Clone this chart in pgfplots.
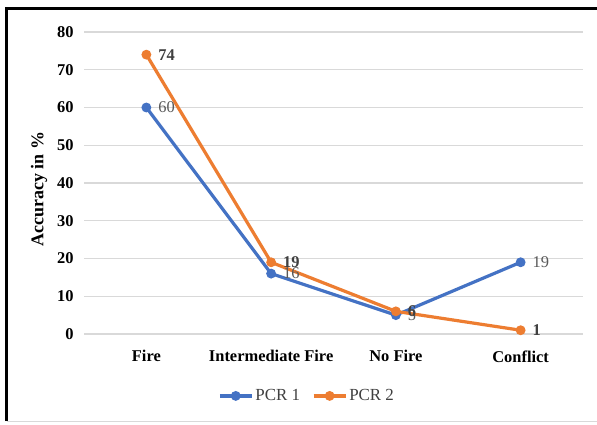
\documentclass[border=0pt]{standalone}
\usepackage{pgfplots}
\pgfplotsset{compat=1.18}
\usepackage{fontspec}
\setmainfont{Liberation Serif}
\definecolor{pblue}{HTML}{4472C4}
\definecolor{porange}{HTML}{ED7D31}
\definecolor{gridc}{HTML}{D9D9D9}
\definecolor{txtgray}{HTML}{595959}
\definecolor{txtdark}{HTML}{404040}
\begin{document}
\begin{tikzpicture}[x=1bp,y=1bp]
\useasboundingbox (0,0) rectangle (597,424);
\fill[white] (0,0) rectangle (597,424);
\draw[gridc, line width=1.5bp] (6.5,2.5) -- (597,2.5);
\draw[black, line width=3bp] (6.5,3) -- (6.5,415.5) -- (597,415.5);
\begin{axis}[
  at={(84bp,90bp)}, anchor=south west,
  width=499bp, height=302bp, scale only axis,
  xmin=-0.5, xmax=3.5, ymin=0, ymax=80,
  xtick={0,1,2,3},
  xticklabels={Fire, Intermediate Fire, No Fire, Conflict},
  ytick={0,10,...,80},
  ymajorgrids, grid style={gridc, line width=1.3bp},
  axis line style={draw=none},
  major tick length=0,
  clip=false,
  tick label style={font=\fontsize{16.5}{19}\selectfont\bfseries, text=black},
  /pgf/number format/assume math mode=true,
  yticklabel style={xshift=-7bp},
  xticklabel style={yshift=-13bp},
  ylabel={Accuracy in \%},
  every axis y label/.style={at={(axis description cs:-0.09,0.48)}, rotate=90, anchor=center,
    font=\fontsize{18}{21}\selectfont\bfseries},
  legend style={at={(axis description cs:0.447,-0.205)}, anchor=center, draw=none,
    font=\fontsize{17}{20}\selectfont, text=txtdark, legend columns=2,
    /tikz/every even column/.append style={column sep=10bp}},
  legend image code/.code={\draw[mark repeat=2,mark phase=2,#1] plot coordinates {(0bp,0bp) (16bp,0bp) (32bp,0bp)};},
  nodes near coords,
]
\addplot[pblue, line width=3.2bp, mark=*, mark size=4.3bp, mark options={solid, line width=1.2bp},
  every node near coord/.append style={anchor=west, xshift=8bp, font=\fontsize{16.5}{19}\selectfont, text=txtgray}]
  coordinates {(0,60) (1,16) (2,5) (3,19)};
\addlegendentry{PCR 1}
\addplot[porange, line width=3.2bp, mark=*, mark size=4.3bp, mark options={solid, line width=1.2bp},
  every node near coord/.append style={anchor=west, xshift=8bp, font=\fontsize{16.5}{19}\selectfont\bfseries, text=txtdark}]
  coordinates {(0,74) (1,19) (2,6) (3,1)};
\addlegendentry{PCR 2}
\end{axis}
\end{tikzpicture}
\end{document}
